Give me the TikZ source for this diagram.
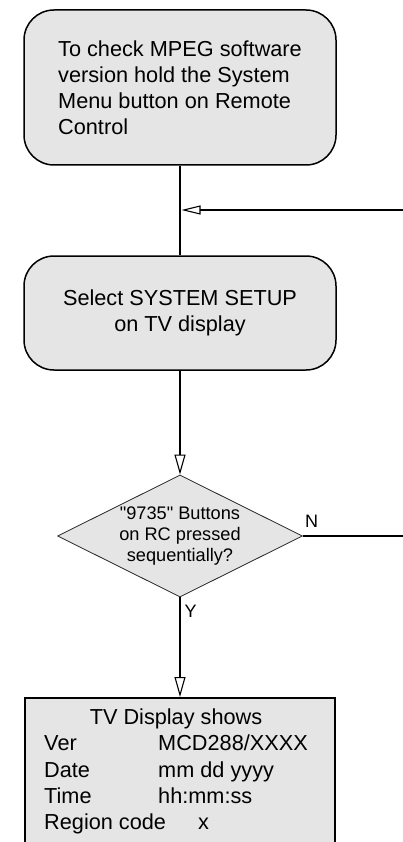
\documentclass[tikz,border=0pt]{standalone}
\usepackage{fontspec}
\setmainfont{Liberation Sans}[Ligatures=TeXOff]
\usepackage{xcolor}
\usepackage{tikz}
\usetikzlibrary{arrows.meta,shapes.geometric,positioning}
\definecolor{BoxGray}{RGB}{229,229,229}

\begin{document}
\begin{tikzpicture}[x=1pt, y=-1pt,
  term/.style={draw, line width=1.5pt, rounded corners=30pt, fill=BoxGray,
               minimum width=312pt, inner sep=0pt, font=\fontsize{21.7}{26}\selectfont},
  decide/.style={diamond, draw=black!85, line width=0.8pt, fill=BoxGray, aspect=2,
                 inner sep=0pt, minimum width=245pt, minimum height=122pt,
                 align=center, font=\fontsize{18.2}{21}\selectfont},
  disp/.style={draw, line width=2pt, fill=BoxGray, minimum width=310pt,
               minimum height=148pt, inner sep=0pt, font=\fontsize{21.7}{26.3}\selectfont},
  flow/.style={-{Triangle[open, length=20pt, width=11pt, line width=1.1pt]}, line width=2.7pt},
  back/.style={line width=1.1pt},
  tag/.style={font=\fontsize{18}{21}\selectfont, inner sep=0pt}]

  \useasboundingbox (0,0) rectangle (403,842);
  \clip (0,0) rectangle (403,842);

  % --- start and menu boxes ---
  \node[term, align=left, minimum height=155pt] (start) at (180,87.5)
    {To check MPEG software\\version hold the System\\Menu button on Remote\\Control};
  \node[term, align=center, minimum height=114pt] (setup) at (180,313)
    {Select SYSTEM SETUP\\on TV display};

  % --- decision ---
  \node[decide] (code) at (180,536) {"9735" Buttons\\on RC pressed\\sequentially?};

  % --- result ---
  \node[disp] (show) at (180,772) {%
    \begin{tabular}{@{}p{102pt}l@{\hspace{8pt}}}
      \multicolumn{2}{@{}c@{\hspace{8pt}}}{TV Display shows}\\
      Ver  & MCD288/XXXX\\
      Date & mm dd yyyy\\
      Time & hh:mm:ss\\
      \multicolumn{2}{@{}l@{\hspace{8pt}}}{Region code\hspace{32pt}x}
    \end{tabular}};

  % --- main path ---
  \draw[line width=2.7pt] (start) -- (setup);
  \draw[flow] (setup) -- (code);
  \draw[flow] (code) -- (show);

  % --- loop back in, and the N exit ---
  \coordinate (join) at (181.5,210);
  \coordinate (loopin) at (403,210);
  \draw[back, -{Triangle[open, length=19pt, width=9pt, line width=1.1pt]}] (loopin) -- (join);
  \coordinate (nout) at (403,536);
  \draw[back] (code) -- (nout);
  \node[tag] (nmark) at (311.5,521.5) {N};
  \node[tag] (ymark) at (190.5,611) {Y};
\end{tikzpicture}
\end{document}
